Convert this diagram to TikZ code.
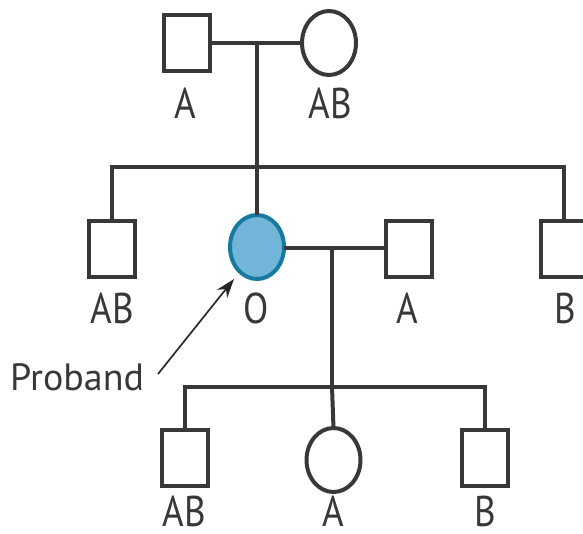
\documentclass[tikz,border=0pt]{standalone}
\usepackage{fontspec}
\setmainfont{PT Sans}
\newfontfamily\labfont{PT Sans}[FakeStretch=0.86]
\usetikzlibrary{shapes.geometric,arrows.meta}
\definecolor{ln}{HTML}{383838}
\definecolor{pfill}{HTML}{72B5D8}
\definecolor{pdraw}{HTML}{16799F}
\begin{document}
\begin{tikzpicture}[x=1pt,y=-1pt,
  male/.style={draw=ln,line width=4pt,rectangle,minimum width=46pt,minimum height=56pt,inner sep=0pt,outer sep=0pt},
  female/.style={draw=ln,line width=4pt,ellipse,minimum width=54pt,minimum height=64pt,inner sep=0pt,outer sep=0pt},
  proband/.style={female,draw=pdraw,fill=pfill},
  link/.style={draw=ln,line width=4pt},
  lab/.style={anchor=base,font=\labfont\fontsize{43}{46}\selectfont,text=ln,inner sep=0pt},
  plab/.style={anchor=base west,font=\fontsize{38}{42}\selectfont,text=ln,inner sep=0pt},
  arr/.style={-{Stealth[length=19pt,width=13pt]},line width=1.7pt,draw=black!85}]
\useasboundingbox (0,0) rectangle (583,533);
% generation I
\node[male]   (f1) at (187,43) {};
\node[female] (m1) at (329,43) {};
% generation II
\node[male]    (s1) at (112,248.5) {};
\node[proband] (p)  at (257,247) {};
\node[male]    (sp) at (409,248.5) {};
\node[male]    (s3) at (564,248.5) {};
% generation III
\node[male]   (c1) at (184.5,458) {};
\node[female] (c2) at (333.5,460) {};
\node[male]   (c3) at (484.5,458) {};
% connectors
\coordinate (j1) at (257,43);
\coordinate (t1) at (112,167);
\coordinate (j2) at (332,248);
\coordinate (t3) at (184.5,387);
\coordinate (t2) at (332,387);
\draw[link] (f1.east) -- (m1.west);
\draw[link] (j1) -- (p.north);
\draw[link] (s1.north) -- (t1) -| (s3.north);
\draw[link] (p.east |- j2) -- (sp.west |- j2);
\draw[link] (j2) -- (t2);
\draw[link] (t2) -- (c2.north);
\draw[link] (c1.north) -- (t3) -| (c3.north);
% labels
\node[lab] (lf1) at (185,118) {A};
\node[lab] (lm1) at (330,118) {AB};
\node[lab] (ls1) at (112,323) {AB};
\node[lab] (lp)  at (256,323) {O};
\node[lab] (lsp) at (407,323) {A};
\node[lab] (ls3) at (565,323) {B};
\node[lab] (lc1) at (184,526) {AB};
\node[lab] (lc2) at (333,526) {A};
\node[lab] (lc3) at (485,526) {B};
\node[plab] (pl) at (10,390) {Proband};
% proband arrow
\coordinate (as) at (158,374);
\coordinate (ae) at (234,279);
\draw[arr] (as) -- (ae);
\end{tikzpicture}
\end{document}
